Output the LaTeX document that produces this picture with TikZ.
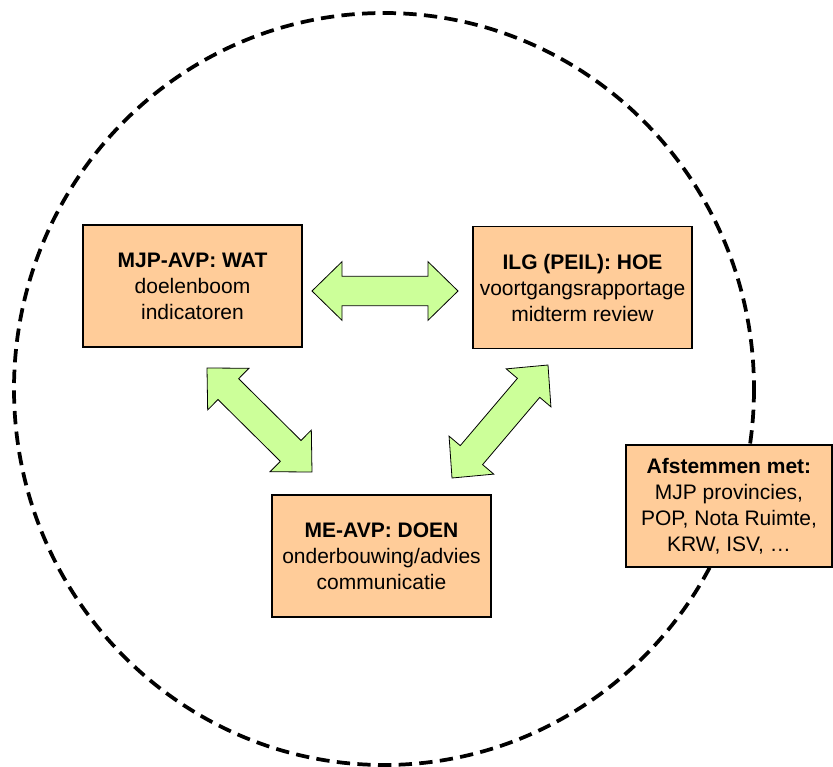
\documentclass[tikz,border=0pt]{standalone}
\usepackage{fontspec}
\setmainfont{Liberation Sans}
\usetikzlibrary{calc,positioning}
\definecolor{boxc}{RGB}{255,204,153}
\definecolor{arrc}{RGB}{204,255,153}
\tikzstyle{doel} = [draw=black, fill=boxc, line width=1.1pt, minimum width=164.25pt, minimum height=91.5pt, align=center, inner sep=0pt, font=\fontsize{15.75pt}{19.5pt}\selectfont]
\tikzstyle{duo} = [draw=black, fill=arrc, line width=0.6pt, line join=miter]
\tikzstyle{cirkel} = [draw=black, line width=2.8pt, dash pattern=on 10pt off 5.5pt]
% block arrow with two heads between two tips
\newcommand{\dubbelpijl}[2]{
\draw[duo] (#1) -- ($(#1)!22.5pt!(#2)!22pt!90:(#2)$) -- ($(#1)!22.5pt!(#2)!11pt!90:(#2)$)
  -- ($(#2)!22.5pt!(#1)!11pt!-90:(#1)$) -- ($(#2)!22.5pt!(#1)!22pt!-90:(#1)$) -- (#2)
  -- ($(#2)!22.5pt!(#1)!22pt!90:(#1)$) -- ($(#2)!22.5pt!(#1)!11pt!90:(#1)$)
  -- ($(#1)!22.5pt!(#2)!11pt!-90:(#2)$) -- ($(#1)!22.5pt!(#2)!22pt!-90:(#2)$) -- cycle;
}
\begin{document}
\begin{tikzpicture}[x=0.75pt, y=-0.75pt]
\useasboundingbox (0,0) rectangle (833,767);
\draw[cirkel] (384,389) ellipse [x radius=370, y radius=376];

\node[doel] (wat) at (192.5,286) {\textbf{MJP-AVP: WAT}\\doelenboom\\indicatoren};
\node[doel] (hoe) at (582.5,287.5) {\textbf{ILG (PEIL): HOE}\\voortgangsrapportage\\midterm review};
\node[doel] (doen) at (381.5,556) {\textbf{ME-AVP: DOEN}\\onderbouwing/advies\\communicatie};
\node[doel, minimum width=154.5pt] (afst) at (729,506) {\textbf{Afstemmen met:}\\MJP provincies,\\POP, Nota Ruimte,\\KRW, ISV, …};

\coordinate (h1) at (312,291);
\coordinate (h2) at (458,291);
\coordinate (l1) at (207,368);
\coordinate (l2) at (312,472);
\coordinate (r1) at (548,365);
\coordinate (r2) at (452,478);
\dubbelpijl{h1}{h2}
\dubbelpijl{l1}{l2}
\dubbelpijl{r1}{r2}
\end{tikzpicture}
\end{document}
